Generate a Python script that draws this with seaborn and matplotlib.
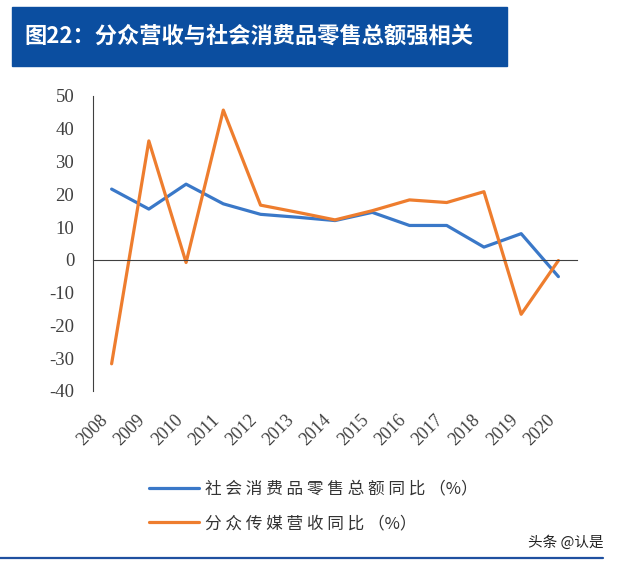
import matplotlib
matplotlib.use("Agg")
import matplotlib.pyplot as plt
from matplotlib.lines import Line2D
from matplotlib.patches import Rectangle
import pandas as pd
import seaborn as sns

# Data
YEARS = ["2008", "2009", "2010", "2011", "2012", "2013", "2014",
         "2015", "2016", "2017", "2018", "2019", "2020"]
RETAIL = [21.6, 15.5, 23.1, 17.1, 13.9, 13.0, 12.0, 14.5, 10.5, 10.5, 3.9, 8.0, -5.1]
FOCUS = [-31.7, 36.3, -0.8, 45.7, 16.7, 14.5, 12.2, 15.0, 18.3, 17.5, 20.8, -16.6, -0.2]
RETAIL_LABEL = "社会消费品零售总额同比（%）"
FOCUS_LABEL = "分众传媒营收同比（%）"
TITLE = "图22：分众营收与社会消费品零售总额强相关"
WATERMARK = "头条 @认是"
Y_TICKS = [-40, -30, -20, -10, 0, 10, 20, 30, 40, 50]

BLUE = "#3A78C8"
ORANGE = "#EE7D2E"
BANNER = "#0B4EA0"
AXIS = "#404040"

sns.set_style("white")
plt.rcParams["font.family"] = ["Noto Sans CJK SC", "DejaVu Sans"]

df = pd.DataFrame({
    "idx": list(range(len(YEARS))) * 2,
    "value": RETAIL + FOCUS,
    "series": [RETAIL_LABEL] * len(YEARS) + [FOCUS_LABEL] * len(YEARS),
})

fig = plt.figure(figsize=(6.4, 5.66), dpi=100)
ax = fig.add_axes([0.1453, 0.3092, 0.7563, 0.5212])

sns.lineplot(data=df, x="idx", y="value", hue="series",
             palette={RETAIL_LABEL: BLUE, FOCUS_LABEL: ORANGE},
             linewidth=2.3, legend=False, ax=ax)

ax.set_xlim(-0.5, len(YEARS) - 0.5)
ax.set_ylim(-40, 50)
ax.set_xlabel("")
ax.set_ylabel("")

# y axis
ax.set_yticks(Y_TICKS)
ax.set_yticklabels([str(v) for v in Y_TICKS], family="Liberation Serif",
                   fontsize=13.5, color="#404040")
ax.tick_params(axis="y", direction="out", length=4.5, width=1, color=AXIS, pad=9)

# zero line with tick marks between categories
ax.spines["bottom"].set_position(("data", 0))
ax.spines["bottom"].set_color(AXIS)
ax.spines["left"].set_color(AXIS)
ax.spines["top"].set_visible(False)
ax.spines["right"].set_visible(False)
ax.set_xticks([i - 0.5 for i in range(len(YEARS) + 1)])
ax.set_xticklabels([])
ax.tick_params(axis="x", direction="out", length=4.5, width=1, color=AXIS)

# category labels at the bottom of the plot
sec = ax.secondary_xaxis("bottom")
sec.set_xticks(list(range(len(YEARS))))
sec.set_xticklabels(YEARS, rotation=45, ha="right", family="Liberation Serif",
                    fontsize=13, color="#404040")
sec.tick_params(axis="x", length=0, pad=15)
sec.spines["bottom"].set_visible(False)

# legend below
handles = [Line2D([], [], color=BLUE, linewidth=2.3),
           Line2D([], [], color=ORANGE, linewidth=2.3)]
labels = [" ".join(RETAIL_LABEL[:-3]) + " （%）",
          " ".join(FOCUS_LABEL[:-3]) + " （%）"]
fig.legend(handles, labels, loc="upper left", bbox_to_anchor=(0.209, 0.177),
           bbox_transform=fig.transFigure, frameon=False, fontsize=12,
           handlelength=3.0, handletextpad=0.4, labelspacing=1.05,
           labelcolor="#333333")

# title banner
fig.patches.append(Rectangle((0.01875, 0.8834), 0.7734, 0.1042,
                             transform=fig.transFigure, color=BANNER, zorder=0))
fig.text(0.038, 0.9355, TITLE, color="white", fontsize=16, fontweight="bold",
         va="center", ha="left")

# footer
fig.text(0.825, 0.042, WATERMARK, fontsize=10.5, color="#222222", va="center")
fig.lines.append(Line2D([0.0, 0.942], [0.0141, 0.0141], transform=fig.transFigure,
                        color="#1F50A0", linewidth=1.6))

fig.savefig("out.png", dpi=100)
